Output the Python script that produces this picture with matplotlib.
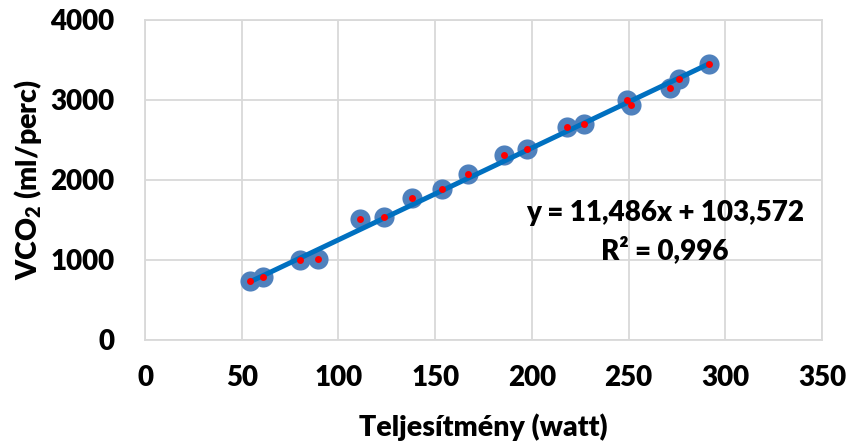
import matplotlib
matplotlib.use("Agg")
import matplotlib.pyplot as plt
import numpy as np

plt.rcParams['font.family'] = ['Lato', 'DejaVu Sans']
W = 'heavy'
plt.rcParams['font.weight'] = W

power_w = [54.3, 61, 80, 89.5, 111, 123.6, 138, 153.6, 167, 185.6, 197.5,
           218, 227, 249, 251, 271.5, 276, 291.8]
vco2 = [737, 787, 1000, 1012, 1512, 1537, 1775, 1887, 2075, 2312, 2387,
        2662, 2700, 3000, 2935, 3150, 3258, 3450]
slope = 11.486
intercept = 103.572
eq_text = "y = 11,486x + 103,572"
r2_text = "R² = 0,996"
x_ticks = [0, 50, 100, 150, 200, 250, 300, 350]
y_ticks = [0, 1000, 2000, 3000, 4000]

fig = plt.figure(figsize=(8.5, 4.45), dpi=100)
ax = fig.add_axes([145/850, 1-340/445, (822-145)/850, (340-20)/445])

ax.set_xlim(0, 350)
ax.set_ylim(0, 4000)
ax.set_xticks(x_ticks)
ax.set_yticks(y_ticks)
ax.grid(True, color='#D9D9D9', linewidth=1.3, zorder=0)
for s in ax.spines.values():
    s.set_color('#D9D9D9')
    s.set_linewidth(1.3)
ax.tick_params(length=0, labelsize=20, colors='black')
ax.tick_params(axis='x', pad=18)
ax.tick_params(axis='y', pad=22)
for lab in ax.get_xticklabels() + ax.get_yticklabels():
    lab.set_fontweight(W)

ax.plot(power_w, vco2, 'o', markersize=14.5, color='#4F81BD', markeredgewidth=0, zorder=2, clip_on=False)
xs = np.array([min(power_w), max(power_w)])
ax.plot(xs, slope * xs + intercept, color='#0070C0', linewidth=3.6, zorder=3, solid_capstyle='butt')
ax.plot(power_w, vco2, 'o', markersize=5, color='#FF0000', markeredgewidth=0, zorder=4, clip_on=False)

ax.set_xlabel('Teljesítmény (watt)', fontsize=20.5, fontweight=W)
ax.xaxis.set_label_coords(0.5, (340-427)/320)
ax.xaxis.label.set_va('center')
ax.set_ylabel(r'VCO$\mathregular{_2}$ (ml/perc)', fontsize=20.5, fontweight=W)
ax.yaxis.set_label_coords((28-145)/677, 0.5)
ax.yaxis.label.set_va('center')

ax.text(665/850, 1-213/445, eq_text, transform=fig.transFigure, ha='center', va='center',
        fontsize=20, fontweight=W)
ax.text(665/850, 1-250/445, r2_text, transform=fig.transFigure, ha='center', va='center',
        fontsize=20, fontweight=W)

fig.savefig('out.png', dpi=100)
